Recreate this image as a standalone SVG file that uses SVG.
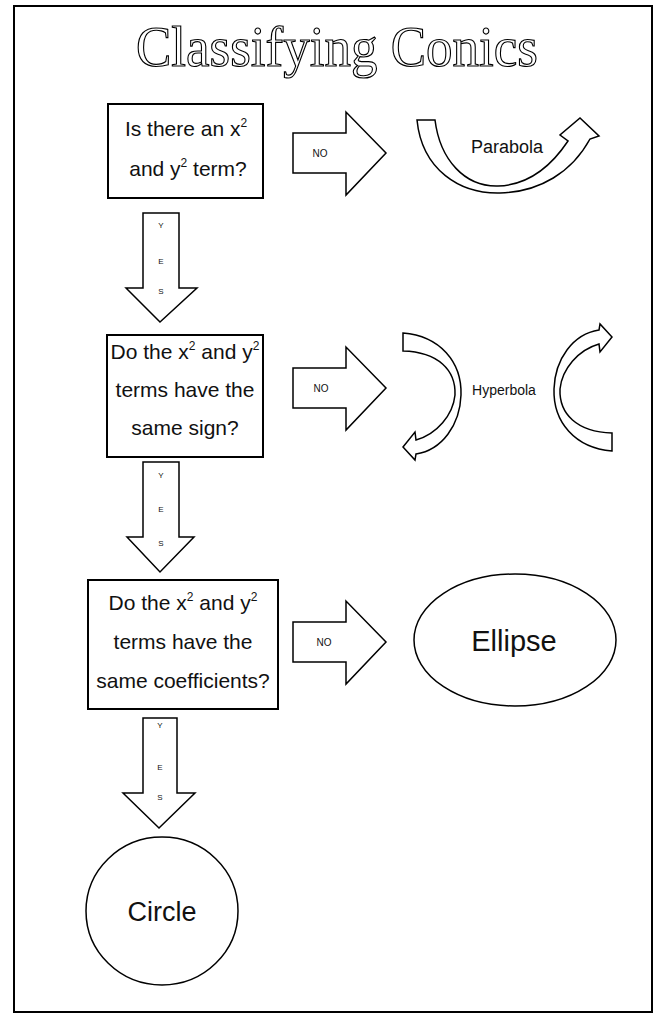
<svg xmlns="http://www.w3.org/2000/svg" width="659" height="1017" viewBox="0 0 659 1017">
<style>
.frame{fill:none;stroke:#000;stroke-width:2}
.box{fill:#fff;stroke:#000;stroke-width:2}
.arr{fill:#fff;stroke:#000;stroke-width:1.5;stroke-linejoin:miter}
.q{font-family:"Liberation Sans",Arial,sans-serif;font-size:21px;fill:#111;text-anchor:middle}
.sup{font-size:12px}
.no{font-family:"Liberation Sans",Arial,sans-serif;font-size:10px;fill:#111;text-anchor:middle}
.yes{font-family:"Liberation Sans",Arial,sans-serif;font-size:8px;fill:#111;text-anchor:middle}
.lbl{font-family:"Liberation Sans",Arial,sans-serif;fill:#111;text-anchor:middle}
.title{font-family:"Liberation Serif","Times New Roman",serif;font-size:57px;fill:#fff;stroke:#000;stroke-width:1.2}
</style>
<defs>
<path id="noArrow" d="M0 0 H53 V-21 L93 20 L53 62 V40 H0 Z"/>
<path id="hyp" d="M403 333 C440 336 462 362 461 395 C460 425 442 450 416 454 L415 460 L403 447 L415 432 L416 440 C437 434 453 415 455 395 C456 370 438 352 403 351 Z"/>
</defs>
<rect class="frame" x="14" y="6" width="638" height="1006"/>
<text class="title" x="136" y="66" textLength="402" lengthAdjust="spacingAndGlyphs">Classifying Conics</text>

<g id="connectors">
<g id="no1"><use href="#noArrow" class="arr" x="293" y="133"/><text class="no" x="320" y="157">NO</text></g>
<g id="no2"><use href="#noArrow" class="arr" x="293" y="368"/><text class="no" x="321" y="392">NO</text></g>
<g id="no3"><use href="#noArrow" class="arr" x="293" y="622"/><text class="no" x="324" y="646">NO</text></g>
<g id="yes1"><path class="arr" d="M143 213 H179 V288 H197 L160 322 L126 288 H143 Z"/><text class="yes" x="161" y="228">Y</text><text class="yes" x="161" y="264">E</text><text class="yes" x="161" y="294">S</text></g>
<g id="yes2"><path class="arr" d="M143 462 H179 V537 H194 L160 572 L127 537 H143 Z"/><text class="yes" x="161" y="478">Y</text><text class="yes" x="161" y="512">E</text><text class="yes" x="161" y="546">S</text></g>
<g id="yes3"><path class="arr" d="M143 718 H177 V793 H195 L159 828 L123 793 H143 Z"/><text class="yes" x="160" y="728">Y</text><text class="yes" x="160" y="770">E</text><text class="yes" x="160" y="800">S</text></g>
</g>

<g id="q1">
<rect class="box" x="108" y="104" width="155" height="94"/>
<text class="q" x="186" y="136">Is there an x<tspan class="sup" dy="-9">2</tspan></text>
<text class="q" x="188" y="176">and y<tspan class="sup" dy="-9">2</tspan><tspan dy="9"> term?</tspan></text>
</g>
<g id="q2">
<rect class="box" x="107" y="335" width="156" height="122"/>
<text class="q" x="185" y="359">Do the x<tspan class="sup" dy="-9">2</tspan><tspan dy="9"> and y</tspan><tspan class="sup" dy="-9">2</tspan></text>
<text class="q" x="185" y="397">terms have the</text>
<text class="q" x="185" y="435">same sign?</text>
</g>
<g id="q3">
<rect class="box" x="88" y="580" width="190" height="129"/>
<text class="q" x="183" y="610">Do the x<tspan class="sup" dy="-9">2</tspan><tspan dy="9"> and y</tspan><tspan class="sup" dy="-9">2</tspan></text>
<text class="q" x="183" y="649">terms have the</text>
<text class="q" x="183" y="688">same coefficients?</text>
</g>

<g id="parabola">
<path class="arr" d="M417 120 C422 170 460 194 500 193 C540 192 572 172 590 139 L599 136 L580 118 L560 135 L568 141 C552 165 530 185 498 186 C465 187 440 160 435 120 Z"/>
<text class="lbl" x="507" y="153" font-size="18">Parabola</text>
</g>
<g id="hyperbola">
<use href="#hyp" class="arr"/>
<use href="#hyp" class="arr" transform="rotate(180 507.5 392)"/>
<text class="lbl" x="504" y="395" font-size="14">Hyperbola</text>
</g>
<g id="ellipse">
<ellipse cx="515" cy="640" rx="101" ry="66" fill="#fff" stroke="#000" stroke-width="1.5"/>
<text class="lbl" x="514" y="651" font-size="29">Ellipse</text>
</g>
<g id="circle">
<ellipse cx="162" cy="911" rx="76" ry="74" fill="#fff" stroke="#000" stroke-width="1.5"/>
<text class="lbl" x="162" y="921" font-size="27">Circle</text>
</g>
</svg>
